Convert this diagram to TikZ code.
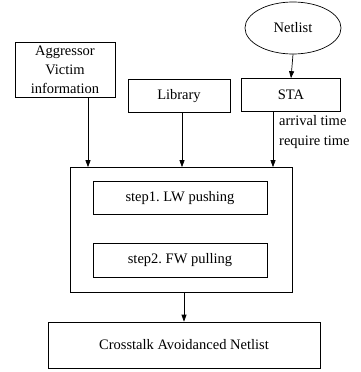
\documentclass[tikz,border=0pt]{standalone}
\usepackage{fontspec}
\setmainfont{Liberation Serif}
\usetikzlibrary{shapes.geometric, arrows.meta, positioning}
\tikzset{
    box/.style={rectangle, draw, line width=0.7pt, align=center, font=\fontsize{14.5}{19}\selectfont},
    oval/.style={ellipse, draw, line width=0.7pt, align=center, font=\fontsize{14.5}{19}\selectfont},
    arrow/.style={-{Triangle[length=7pt, width=5pt]}, line width=0.7pt},
    note/.style={align=left, font=\fontsize{14.5}{20}\selectfont, inner sep=0pt}
}
\begin{document}
\begin{tikzpicture}[x=1pt, y=-1pt]
    \useasboundingbox (0,0) rectangle (360,372);

    % Inputs
    \node[box, minimum width=100pt, minimum height=54pt] (aggr) at (65,70) {Aggressor\\Victim\\information};
    \node[box, minimum width=102pt, minimum height=33pt] (library) at (179,96) {Library};
    \node[box, minimum width=99pt, minimum height=33pt] (sta) at (291,95) {STA};
    \node[oval, minimum width=96pt, minimum height=52pt] (netlist) at (293,28) {Netlist};

    % Optimisation block
    \node[box, minimum width=222pt, minimum height=125pt] (block) at (181,230) {};
    \node[box, minimum width=174pt, minimum height=33pt] (step_one) at (180,198) {step1.\ LW pushing};
    \node[box, minimum width=174pt, minimum height=34pt] (step_two) at (180,260) {step2.\ FW pulling};

    % Result
    \node[box, minimum width=272pt, minimum height=46pt] (result) at (184,345) {Crosstalk Avoidanced Netlist};

    % Arrows
    \draw[arrow] (netlist.south) -- (sta.north);
    \draw[arrow] ([xshift=23pt]aggr.south) -- ([xshift=23pt]aggr.south |- block.north);
    \draw[arrow] ([xshift=3pt]library.south) -- ([xshift=3pt]library.south |- block.north);
    \draw[arrow] ([xshift=-18pt]sta.south) -- ([xshift=-18pt]sta.south |- block.north);
    \draw[arrow] (block.south -| result.north) -- (result.north);

    % Timing labels
    \node[note, anchor=west] (timing) at (279,132) {arrival time\\require time};
\end{tikzpicture}
\end{document}
